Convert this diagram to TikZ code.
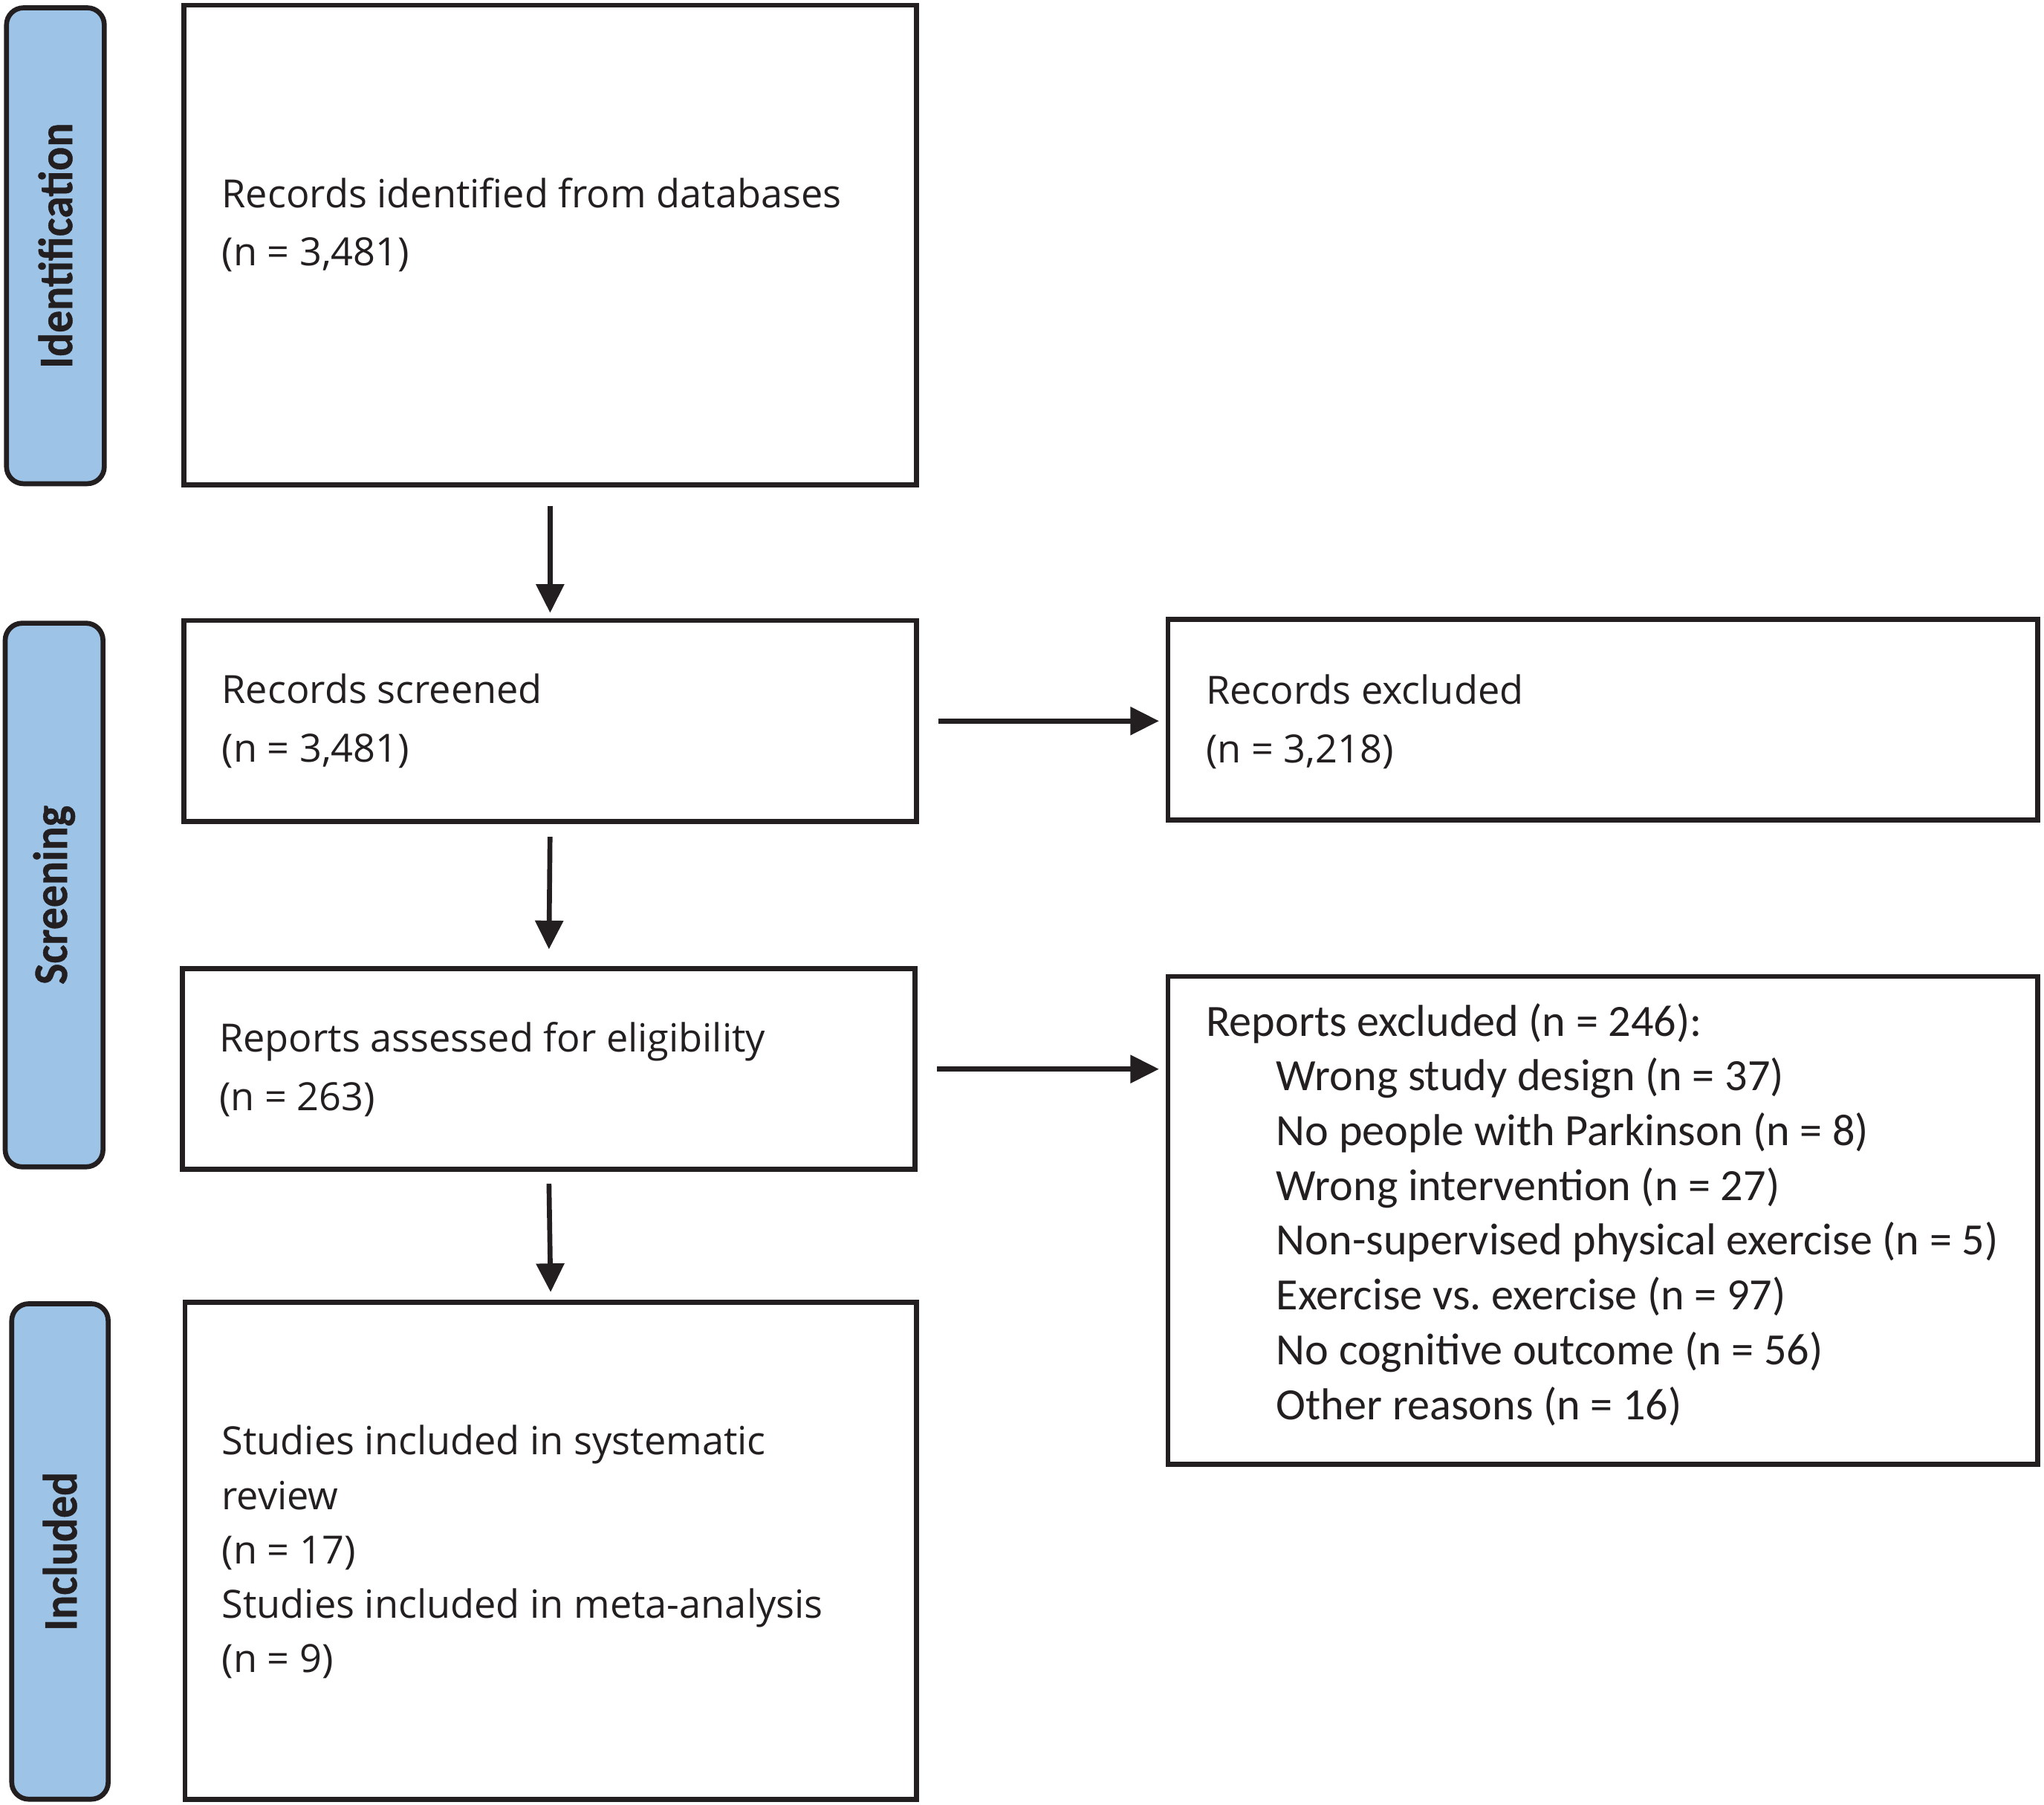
\documentclass[tikz,border=0pt]{standalone}
\usepackage{fontspec}
\setmainfont{Open Sans}
\newfontfamily\listfont{Carlito}
\newfontfamily\sidefont[FakeStretch=0.92,FakeBold=0.6]{Carlito}
\usetikzlibrary{arrows.meta}
\definecolor{ink}{HTML}{231F20}
\definecolor{sideblue}{HTML}{9DC3E6}
\frenchspacing
\tikzset{
  box/.style={draw=ink, line width=3.8pt, fill=white, inner sep=0pt, rectangle},
  sidebox/.style={draw=ink, line width=3.8pt, fill=sideblue, inner sep=0pt, rectangle, rounded corners=13pt},
  sidelabel/.style={rotate=90, text=ink, font=\sidefont\bfseries\fontsize{37}{40}\selectfont, inner sep=0pt},
  maintext/.style={anchor=west, align=left, text=ink, inner sep=0pt, font=\fontsize{29.8}{45}\selectfont},
  arr/.style={draw=ink, line width=3.8pt, -{Triangle[length=22pt,width=21pt]}},
}
\begin{document}
\begin{tikzpicture}[x=1pt,y=-1pt]
\useasboundingbox (0,0) rectangle (1568,1384);
% side boxes
\node[sidebox, minimum width=75pt, minimum height=365pt] (s1) at (42.5,188.5) {};
\node[sidebox, minimum width=75pt, minimum height=417pt] (s2) at (41.5,686.5) {};
\node[sidebox, minimum width=74pt, minimum height=380pt] (s3) at (46,1190) {};
\node[sidelabel] (l1) at (s1.center) {Identification};
\node[sidelabel] (l2) at (s2.center) {Screening};
\node[sidelabel] (l3) at (s3.center) {Included};
% main boxes
\node[box, minimum width=562pt, minimum height=368pt] (b1) at (422,188) {};
\node[box, minimum width=562pt, minimum height=154pt] (b2) at (422,553) {};
\node[box, minimum width=667pt, minimum height=154pt] (b3) at (1229.5,552) {};
\node[box, minimum width=562pt, minimum height=154pt] (b4) at (421,820) {};
\node[box, minimum width=667pt, minimum height=374pt] (b5) at (1229.5,936) {};
\node[box, minimum width=561pt, minimum height=381pt] (b6) at (422.5,1189.5) {};
% texts
\node[maintext] (t1) at (170,172.5) {Records identified from databases\\(n = 3,481)};
\node[maintext] (t2) at (170,553) {Records screened\\(n = 3,481)};
\node[maintext] (t3) at (925,553.5) {Records excluded\\(n = 3,218)};
\node[maintext] (t4) at (168,820) {Reports assessed for eligibility\\(n = 263)};
\node[maintext, font=\fontsize{29.8}{41.75}\selectfont] (t6) at (170,1190.5) {Studies included in systematic\\review\\(n = 17)\\Studies included in meta-analysis\\(n = 9)};
\node[maintext, font=\listfont\fontsize{34.3}{42}\selectfont] (t5) at (925,931.5) {Reports excluded (n = 246):\\
\hspace*{54pt}Wrong study design (n = 37)\\
\hspace*{54pt}No people with Parkinson (n = 8)\\
\hspace*{54pt}Wrong intervention (n = 27)\\
\hspace*{54pt}Non-supervised physical exercise (n = 5)\\
\hspace*{54pt}Exercise vs.\ exercise (n = 97)\\
\hspace*{54pt}No cognitive outcome (n = 56)\\
\hspace*{54pt}Other reasons (n = 16)};
% arrows
\draw[arr, shorten <=14pt, shorten >=4pt] (b1.south) -- (b2.north);
\draw[arr, shorten <=10pt, shorten >=13pt] (b2.south) -- (b4.north);
\draw[arr, shorten <=9pt, shorten >=6pt] (b4.south) -- (b6.north);
\draw[arr, shorten <=15pt, shorten >=5pt] (b2.east) -- (b2.east -| b3.west);
\draw[arr, shorten <=15pt, shorten >=5pt] (b4.east) -- (b4.east -| b5.west);
\end{tikzpicture}
\end{document}
